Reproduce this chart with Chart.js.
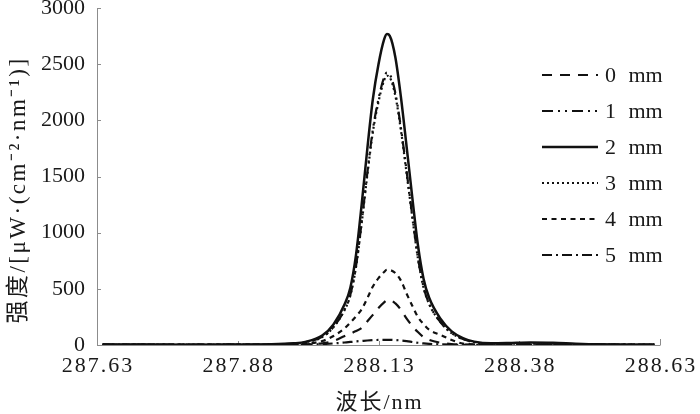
<!DOCTYPE html>
<html><head><meta charset="utf-8">
<script src="https://cdn.jsdelivr.net/npm/chart.js@4"></script>
<style>html,body{margin:0;padding:0;background:#fff}canvas{display:block}</style>
</head><body>
<canvas id="c" width="700" height="414"></canvas>
<script>
// ---- data ----
const wavelengths = [287.64,287.70,287.76,287.82,287.88,287.94,287.98,288.00,288.03,288.05,288.07,288.08,288.09,288.10,288.11,288.12,288.13,288.14,288.145,288.15,288.16,288.17,288.18,288.19,288.20,288.21,288.22,288.24,288.26,288.28,288.30,288.33,288.36,288.40,288.44,288.48,288.52,288.56,288.62];
const series0mm = [2,2,2,2,2,2,3,5,15,35,80,100,125,152,210,268,330,380,398,400,370,312,235,170,115,70,45,20,8,4,3,2,2,3,3,2,2,2,2];
const series1mm = [4,4,3,3,4,5,12,25,72,160,318,447,700,1090,1525,1918,2190,2383,2424,2410,2242,1927,1543,1152,780,517,368,205,106,53,26,12,12,14,12,8,5,4,3];
const series2mm = [4,4,3,3,4,6,15,28,84,183,365,510,800,1245,1740,2190,2500,2720,2768,2752,2560,2200,1762,1315,890,590,420,234,121,61,30,15,17,22,20,12,6,4,3];
const series3mm = [4,3,3,4,4,5,11,24,71,158,314,442,693,1078,1507,1897,2165,2356,2397,2383,2217,1905,1526,1139,771,511,364,203,105,53,26,11,12,13,11,7,5,4,3];
const series4mm = [3,3,3,3,3,4,6,10,35,80,150,200,255,318,415,520,595,650,670,668,640,572,456,350,250,186,136,90,45,12,6,4,5,6,5,4,3,3,3];
const series5mm = [2,2,2,2,2,2,2,3,8,14,22,27,32,36,40,43,45,46,46,46,44,40,34,27,20,14,10,6,3,2,2,2,2,2,2,2,2,2,2];
const seriesLabels = ['0 mm','1 mm','2 mm','3 mm','4 mm','5 mm'];
const xTickValues = [287.63,287.88,288.13,288.38,288.63];
const xTickLabels = ['287.63','287.88','288.13','288.38','288.63'];
const yTickValues = [0,500,1000,1500,2000,2500,3000];
const xTitle = '波长/nm';
const yTitle = '强度/[μW·(cm⁻²·nm⁻¹)]';

// ---- styles ----
const SERIF = '"Liberation Serif", "Noto Sans CJK SC", serif';
const lineStyles = [
  {dash:[10,8], w:2.2},
  {dash:[11,5,2,5,2,5], w:2.2},
  {dash:[], w:2.5},
  {dash:[2,3], w:2.2},
  {dash:[5,4.5], w:2.2},
  {dash:[10,4,2,4], w:2.2}
];
const allSeries = [series0mm,series1mm,series2mm,series3mm,series4mm,series5mm];

const datasets = allSeries.map((vals, k) => ({
  label: seriesLabels[k],
  data: wavelengths.map((w, i) => ({x: w, y: vals[i]})),
  borderColor: '#111',
  borderWidth: lineStyles[k].w,
  borderDash: lineStyles[k].dash,
  pointRadius: 0,
  fill: false,
  cubicInterpolationMode: 'monotone'
}));

const decor = {
  id: 'decor',
  beforeDatasetsDraw(chart) {
    const ctx = chart.ctx, a = chart.chartArea, xs = chart.scales.x, ys = chart.scales.y;
    ctx.save();
    ctx.strokeStyle = '#8c8c8c';
    ctx.lineWidth = 1;
    ctx.setLineDash([]);
    ctx.beginPath();
    ctx.moveTo(a.left + 0.5, a.top);
    ctx.lineTo(a.left + 0.5, a.bottom + 0.5);
    ctx.lineTo(a.right + 0.5, a.bottom + 0.5);
    ctx.stroke();
    yTickValues.forEach(v => {
      const y = Math.round(ys.getPixelForValue(v)) + 0.5;
      ctx.beginPath(); ctx.moveTo(a.left, y); ctx.lineTo(a.left + 4, y); ctx.stroke();
    });
    xTickValues.forEach((v, i) => {
      if (i === 0) return;
      const x = Math.round(xs.getPixelForValue(v)) + 0.5;
      ctx.beginPath(); ctx.moveTo(x, a.bottom); ctx.lineTo(x, a.bottom - (i === xTickValues.length - 1 ? 6 : 4)); ctx.stroke();
    });
    ctx.restore();
  },
  afterDraw(chart) {
    const ctx = chart.ctx, a = chart.chartArea, xs = chart.scales.x;
    ctx.save();
    ctx.fillStyle = '#1a1a1a';
    // x tick labels
    ctx.font = '22px ' + SERIF;
    ctx.letterSpacing = '2px';
    ctx.textAlign = 'center';
    ctx.textBaseline = 'top';
    xTickValues.forEach((v, i) => {
      ctx.fillText(xTickLabels[i], xs.getPixelForValue(v) + 1, a.bottom + 10);
    });
    // x title
    ctx.textBaseline = 'middle';
    ctx.fillText(xTitle, (a.left + a.right) / 2 + 1, 403);
    // y title
    ctx.save();
    ctx.font = '23px ' + SERIF;
    ctx.letterSpacing = '2.5px';
    ctx.translate(19, 190);
    ctx.rotate(-Math.PI / 2);
    ctx.fillText(yTitle, 0, 0);
    ctx.restore();
    // legend
    ctx.font = '22px ' + SERIF;
    ctx.letterSpacing = '0px';
    ctx.wordSpacing = '7px';
    ctx.textAlign = 'left';
    ctx.textBaseline = 'middle';
    chart.data.datasets.forEach((ds, i) => {
      const y = 75 + 36 * i;
      ctx.save();
      ctx.strokeStyle = '#111';
      ctx.lineWidth = ds.borderWidth;
      ctx.setLineDash(ds.borderDash);
      ctx.beginPath(); ctx.moveTo(542, y); ctx.lineTo(598, y); ctx.stroke();
      ctx.restore();
      ctx.fillText(ds.label, 605, y + 1);
    });
    ctx.restore();
  }
};

new Chart(document.getElementById('c'), {
  type: 'line',
  data: { datasets },
  options: {
    responsive: false,
    animation: false,
    devicePixelRatio: 1,
    layout: { padding: { left: 0, top: 8, right: 40, bottom: 0 } },
    plugins: { legend: { display: false }, tooltip: { enabled: false } },
    scales: {
      x: {
        type: 'linear',
        min: 287.63, max: 288.63,
        grid: { display: false },
        border: { display: false },
        ticks: { display: false },
        afterBuildTicks: s => { s.ticks = xTickValues.map(v => ({ value: v })); },
        afterFit: s => { s.height = 69; s.paddingLeft = 0; s.paddingRight = 0; }
      },
      y: {
        min: 0, max: 3000,
        grid: { display: false, drawTicks: false },
        border: { display: false },
        afterBuildTicks: s => { s.ticks = yTickValues.map(v => ({ value: v })); },
        ticks: {
          font: { family: SERIF, size: 22 },
          color: '#1a1a1a',
          padding: 12,
          callback: v => String(v)
        },
        afterFit: s => { s.width = 97; s.paddingTop = 0; s.paddingBottom = 0; }
      }
    }
  },
  plugins: [decor]
});
</script>
</body></html>
